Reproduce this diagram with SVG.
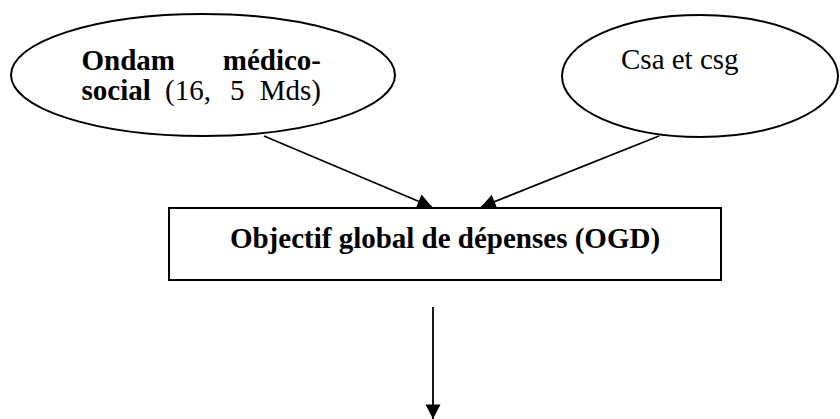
<svg xmlns="http://www.w3.org/2000/svg" width="840" height="419" viewBox="0 0 840 419">
  <style>
    .shape { fill: #ffffff; stroke: #000000; stroke-width: 2; }
    .conn { fill: none; stroke: #000000; stroke-width: 1.8; }
    .t { font-family: 'Liberation Serif', 'DejaVu Serif', serif; font-size: 29px; fill: #000000; }
    .b { font-weight: bold; }
  </style>
  <defs>
    <marker id="arrow" markerUnits="userSpaceOnUse" viewBox="-15 -8 16 16" refX="0" refY="0" markerWidth="16" markerHeight="16" orient="auto">
      <path d="M0,0 L-14.5,-7.5 L-14.5,7.5 Z" fill="#000000"/>
    </marker>
  </defs>
  <rect width="840" height="419" fill="#ffffff"/>
  <g id="connectors">
    <line class="conn" x1="264" y1="136" x2="432" y2="207" marker-end="url(#arrow)"/>
    <line class="conn" x1="659" y1="136" x2="481" y2="207" marker-end="url(#arrow)"/>
    <line class="conn" x1="433" y1="307" x2="433" y2="419" marker-end="url(#arrow)"/>
  </g>
  <g id="ondam">
    <ellipse class="shape" cx="203" cy="75" rx="192" ry="61"/>
    <text class="t b" x="81.5" y="70">Ondam</text>
    <text class="t b" x="321" y="70" text-anchor="end">médico-</text>
    <text class="t b" x="81.5" y="100">social</text>
    <text class="t" x="165" y="100">(16,</text>
    <text class="t" x="230" y="100">5</text>
    <text class="t" x="321" y="100" text-anchor="end">Mds)</text>
  </g>
  <g id="csa">
    <ellipse class="shape" cx="700" cy="76" rx="138" ry="61"/>
    <text class="t" x="621" y="69">Csa et csg</text>
  </g>
  <g id="ogd">
    <rect class="shape" x="169" y="208" width="552" height="72" stroke-width="2.4"/>
    <text class="t b" x="445" y="248" text-anchor="middle">Objectif global de dépenses (OGD)</text>
  </g>
</svg>
